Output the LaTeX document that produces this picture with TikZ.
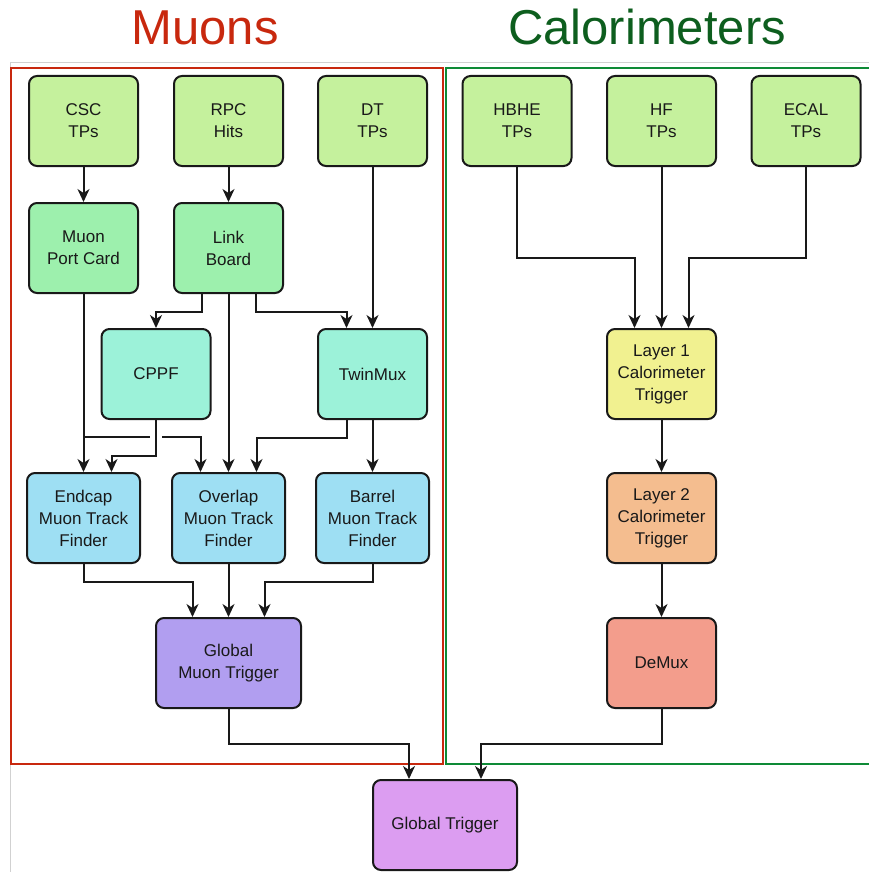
\documentclass[tikz,border=0pt]{standalone}
\usepackage{fontspec}
\setmainfont{Liberation Sans}
\usetikzlibrary{arrows.meta,calc}
\definecolor{tpgreen}{HTML}{C5F19D}
\definecolor{boardgreen}{HTML}{9DF0AD}
\definecolor{aqua}{HTML}{9CF2D9}
\definecolor{tfblue}{HTML}{9EDFF3}
\definecolor{gmtpurple}{HTML}{B19EF0}
\definecolor{layeryellow}{HTML}{F1F190}
\definecolor{layerorange}{HTML}{F4BD8F}
\definecolor{demuxsalmon}{HTML}{F39D8C}
\definecolor{gtviolet}{HTML}{DC9DF1}
\definecolor{muonred}{HTML}{C8280E}
\definecolor{calogreen}{HTML}{0E8A36}
\definecolor{calotitle}{HTML}{0D5E1E}
\begin{document}
\begin{tikzpicture}[x=1pt, y=-1pt,
    box/.style={rectangle, draw=black!90, line width=2pt, rounded corners=8pt,
      minimum width=109pt, minimum height=90pt, align=center,
      font=\fontsize{17}{22}\selectfont, text=black!90},
    wide/.style={box, minimum width=113pt},
    title/.style={anchor=base, font=\fontsize{49}{55}\selectfont},
    >={Stealth[length=13pt,width=12pt,inset=4pt]},
    link/.style={->, line width=2pt, black!90}]

  \useasboundingbox (0,0) rectangle (869,872);
  \draw[black!18, line width=1pt] (10,872) -- (10,63) -- (869,63);
  \draw[muonred, line width=2.6pt] (11,68) rectangle (443,764);
  \draw[calogreen, line width=2.6pt] (869,68) -- (446,68) -- (446,764) -- (869,764);

  \node[title, text=muonred] (muons) at (205,45) {Muons};
  \node[title, text=calotitle] (calos) at (647,45) {Calorimeters};

  \node[box, fill=tpgreen] (csc) at (83.5,121) {CSC\\TPs};
  \node[box, fill=tpgreen] (rpc) at (228.5,121) {RPC\\Hits};
  \node[box, fill=tpgreen] (dt) at (372.5,121) {DT\\TPs};
  \node[box, fill=tpgreen] (hbhe) at (517,121) {HBHE\\TPs};
  \node[box, fill=tpgreen] (hf) at (661.5,121) {HF\\TPs};
  \node[box, fill=tpgreen] (ecal) at (806,121) {ECAL\\TPs};

  \node[box, fill=boardgreen] (mpc) at (83.5,248) {Muon\\Port Card};
  \node[box, fill=boardgreen] (lb) at (228.5,248) {Link\\Board};
  \node[box, fill=aqua] (cppf) at (156,374) {CPPF};
  \node[box, fill=aqua] (twinmux) at (372.5,374) {TwinMux};

  \node[wide, fill=tfblue] (emtf) at (83.5,518) {Endcap\\Muon Track\\Finder};
  \node[wide, fill=tfblue] (omtf) at (228.5,518) {Overlap\\Muon Track\\Finder};
  \node[wide, fill=tfblue] (bmtf) at (372.5,518) {Barrel\\Muon Track\\Finder};
  \node[box, fill=gmtpurple, minimum width=145pt] (gmt) at (228.5,663) {Global\\Muon Trigger};

  \node[box, fill=layeryellow] (layer1) at (661.5,374) {Layer 1\\Calorimeter\\Trigger};
  \node[box, fill=layerorange] (layer2) at (661.5,518) {Layer 2\\Calorimeter\\Trigger};
  \node[box, fill=demuxsalmon] (demux) at (661.5,663) {DeMux};

  \node[box, fill=gtviolet, minimum width=144pt] (gt) at (445,825) {Global Trigger};

  \coordinate (bus) at (0,437);

  \draw[link] (csc) -- (mpc);
  \draw[link] (rpc) -- (lb);
  \draw[link] (dt) -- (twinmux);
  \draw[link] ([xshift=-27pt]lb.south) -- ++(0,18) -| (cppf.north);
  \draw[link] ([xshift=27pt]lb.south) -- ++(0,18) -| ([xshift=-26pt]twinmux.north);
  \draw[link] (lb) -- (omtf);
  \draw[link] (mpc) -- (emtf);
  \draw[link] (mpc.south |- bus) -- ([xshift=-6pt]cppf.south |- bus) ++(12,0) -| ([xshift=-28pt]omtf.north);
  \draw[link] (cppf.south) -- ++(0,36) -| ([xshift=28pt]emtf.north);
  \draw[link] ([xshift=-26pt]twinmux.south) -- ++(0,18) -| ([xshift=28pt]omtf.north);
  \draw[link] (twinmux) -- (bmtf);

  \draw[link] (emtf.south) -- ++(0,18) -| ([xshift=-36pt]gmt.north);
  \draw[link] (omtf) -- (gmt);
  \draw[link] (bmtf.south) -- ++(0,18) -| ([xshift=36pt]gmt.north);

  \draw[link] (hbhe.south) -- ++(0,91) -| ([xshift=-27pt]layer1.north);
  \draw[link] (hf) -- (layer1);
  \draw[link] (ecal.south) -- ++(0,91) -| ([xshift=27pt]layer1.north);
  \draw[link] (layer1) -- (layer2);
  \draw[link] (layer2) -- (demux);

  \draw[link] (gmt.south) -- ++(0,35) -| ([xshift=-36pt]gt.north);
  \draw[link] (demux.south) -- ++(0,35) -| ([xshift=36pt]gt.north);
\end{tikzpicture}
\end{document}
